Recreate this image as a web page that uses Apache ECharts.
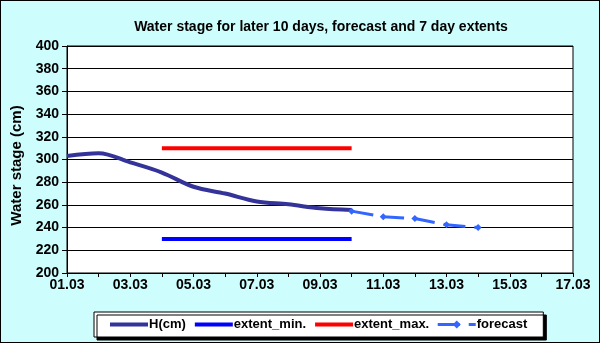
<!DOCTYPE html>
<html>
<head>
<meta charset="utf-8">
<script src="https://cdn.jsdelivr.net/npm/echarts@6/dist/echarts.min.js"></script>
<style>
	html, body { margin: 0; padding: 0; }
	#chart { width: 598px; height: 341px; border: 1px solid #000; }
</style>
</head>
<body>
<div id="chart"></div>
<script>
// day of March
const hDays = [1, 2, 3, 4, 5, 6, 7, 8, 9, 10]
const hValues = [303, 305.5, 297.5, 288.5, 276, 270, 263, 260.5, 257, 255.5]
const extentDays = [4, 10]
const extentMin = [230, 230]
const extentMax = [310, 310]
const forecastDays = [10, 11, 12, 13, 14]
const forecastValues = [254.5, 249.5, 248, 242.5, 240]
const xTickLabels = ['01.03', '03.03', '05.03', '07.03', '09.03', '11.03', '13.03', '15.03', '17.03']

const pairs = (xs, ys) => xs.map((x, i) => [x, ys[i]])

const boldFont = { fontFamily: 'Arial, Liberation Sans', fontWeight: 'bold', color: '#000' }
// legend: plain thick line, no marker dot
const plainLine = { itemStyle: { opacity: 0 }, lineStyle: { width: 4 } }

const myChart = echarts.init(document.getElementById('chart'))
myChart.setOption({
	backgroundColor: '#cdfdfd',
	animation: false,
	title: {
		text: 'Water stage for later 10 days, forecast and 7 day extents',
		left: 315,
		top: 14,
		textAlign: 'center',
		textStyle: { ...boldFont, fontSize: 14 }
	},
	grid: {
		left: 65,
		right: 26,
		top: 45,
		bottom: 69,
		show: true,
		backgroundColor: '#fff',
		borderColor: '#000',
		borderWidth: 1
	},
	legend: {
		left: 93,
		top: 311,
		padding: [6, 16, 6, 14],
		itemWidth: 38,
		itemHeight: 10,
		itemGap: 7,
		backgroundColor: '#fff',
		borderColor: '#000',
		borderWidth: 1,
		shadowColor: '#000',
		shadowOffsetX: 3,
		shadowOffsetY: 3,
		textStyle: { ...boldFont, fontSize: 13, padding: [0, 0, 0, -4] },
		data: [
			{ name: 'H(cm)', ...plainLine },
			{ name: 'extent_min.', ...plainLine },
			{ name: 'extent_max.', ...plainLine },
			{ name: 'forecast', lineStyle: { width: 3 } }
		]
	},
	xAxis: {
		type: 'value',
		min: 1,
		max: 17,
		interval: 2,
		axisLine: { lineStyle: { color: '#000' } },
		axisTick: { length: 4, lineStyle: { color: '#000' } },
		minorTick: { show: true, splitNumber: 2, length: 4, lineStyle: { color: '#000' } },
		splitLine: { show: false },
		axisLabel: {
			...boldFont,
			fontSize: 14,
			margin: 5,
			formatter: (v) => xTickLabels[(v - 1) / 2] || ''
		}
	},
	yAxis: {
		type: 'value',
		min: 200,
		max: 400,
		interval: 20,
		name: 'Water stage (cm)',
		nameLocation: 'middle',
		nameGap: 43,
		nameTextStyle: { ...boldFont, fontSize: 15, padding: [0, 12, 0, 0] },
		axisLine: { show: true, lineStyle: { color: '#000' } },
		axisTick: { show: true, length: 5, lineStyle: { color: '#000' } },
		splitLine: { lineStyle: { color: '#000', width: 1 } },
		axisLabel: { ...boldFont, fontSize: 14, margin: 8 }
	},
	series: [
		{
			name: 'H(cm)',
			type: 'line',
			smooth: 0.35,
			symbol: 'none',
			color: '#333399',
			lineStyle: { width: 4, color: '#333399' },
			data: pairs(hDays, hValues)
		},
		{
			name: 'extent_min.',
			type: 'line',
			symbol: 'none',
			color: '#0000ff',
			lineStyle: { width: 4, color: '#0000ff' },
			data: pairs(extentDays, extentMin)
		},
		{
			name: 'extent_max.',
			type: 'line',
			symbol: 'none',
			color: '#ff0000',
			lineStyle: { width: 4, color: '#ff0000' },
			data: pairs(extentDays, extentMax)
		},
		{
			name: 'forecast',
			type: 'line',
			symbol: 'diamond',
			symbolSize: 7,
			color: '#3366ff',
			itemStyle: { color: '#3366ff' },
			lineStyle: { width: 3, color: '#3366ff', type: [22, 9] },
			data: pairs(forecastDays, forecastValues)
		}
	]
})
</script>
</body>
</html>
